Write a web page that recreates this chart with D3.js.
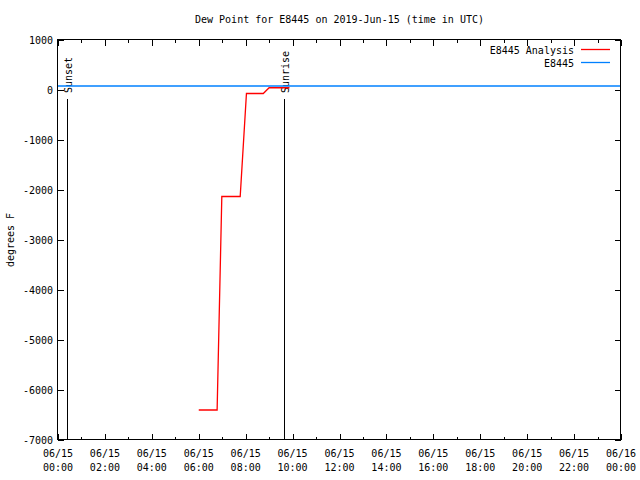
<!DOCTYPE html>
<html>
<head>
<meta charset="utf-8">
<script src="https://cdn.jsdelivr.net/npm/d3@7"></script>
<style>
  body { margin: 0; background: #fff; }
  svg text { font-family: "DejaVu Sans Mono", monospace; font-size: 10px; fill: #000; }
</style>
</head>
<body>
<div id="chart"></div>
<script>
// chart data, times in UTC on 2019-06-15
const analysisTimes = ['06:00', '06:47', '06:59', '07:46', '08:02', '08:45', '09:00', '09:52'];
const analysisValues = [-6400, -6400, -2130, -2130, -70, -70, 45, 45];
const observedTimes = ['00:00', '24:00'];
const observedValues = [80, 80];
const sunEvents = [{ label: 'Sunset', time: '00:22' }, { label: 'Sunrise', time: '09:39' }];
const yTicks = [1000, 0, -1000, -2000, -3000, -4000, -5000, -6000, -7000];
const xTickHours = [0, 2, 4, 6, 8, 10, 12, 14, 16, 18, 20, 22, 24];

const width = 640, height = 480;
const margin = { top: 40, right: 19, bottom: 40, left: 58 };

const parseTime = t => {
  const [h, m] = t.split(':').map(Number);
  return new Date(Date.UTC(2019, 5, 15, h, m));
};
const dayStart = parseTime('00:00');
const dayEnd = parseTime('24:00');

const svg = d3.select('#chart').append('svg')
  .attr('width', width)
  .attr('height', height);

const x = d3.scaleUtc()
  .domain([dayStart, dayEnd])
  .range([margin.left, width - margin.right]);

const y = d3.scaleLinear()
  .domain([-7000, 1000])
  .range([height - margin.bottom, margin.top]);

const crisp = v => Math.round(v) + 0.5;

// ticks (inward, on all four sides)
const hourTicks = d3.utcHour.range(dayStart, d3.utcHour.offset(dayEnd, 1));
const ticks = svg.append('g').attr('stroke', '#000').attr('stroke-width', 1);
hourTicks.forEach((d, i) => {
  const len = i % 2 === 0 ? 6 : 3;
  const px = crisp(x(d));
  ticks.append('line').attr('x1', px).attr('x2', px)
    .attr('y1', y(-7000)).attr('y2', y(-7000) - len);
  ticks.append('line').attr('x1', px).attr('x2', px)
    .attr('y1', y(1000)).attr('y2', y(1000) + len);
});
yTicks.forEach(v => {
  const py = crisp(y(v));
  ticks.append('line').attr('x1', x(dayStart)).attr('x2', x(dayStart) + 6)
    .attr('y1', py).attr('y2', py);
  ticks.append('line').attr('x1', x(dayEnd)).attr('x2', x(dayEnd) - 6)
    .attr('y1', py).attr('y2', py);
});

// tick labels
svg.append('g').selectAll('text')
  .data(yTicks)
  .join('text')
  .attr('x', x(dayStart) - 5)
  .attr('y', d => y(d) + 4)
  .attr('text-anchor', 'end')
  .text(d => d);

const fmtDate = d3.utcFormat('%m/%d');
const fmtTime = d3.utcFormat('%H:%M');
const xLabels = svg.append('g').selectAll('text')
  .data(xTickHours.map(h => d3.utcHour.offset(dayStart, h)))
  .join('text')
  .attr('text-anchor', 'middle')
  .attr('x', d => x(d));
xLabels.append('tspan').attr('x', d => x(d)).attr('y', 457).text(d => fmtDate(d));
xLabels.append('tspan').attr('x', d => x(d)).attr('y', 471).text(d => fmtTime(d));

// sunset / sunrise markers
sunEvents.forEach(ev => {
  const px = crisp(x(parseTime(ev.time)));
  svg.append('line')
    .attr('x1', px).attr('x2', px)
    .attr('y1', 99).attr('y2', y(-7000))
    .attr('stroke', '#000');
  svg.append('text')
    .attr('transform', `translate(${px + 4},${93}) rotate(-90)`)
    .attr('text-anchor', 'start')
    .text(ev.label);
});

const line = d3.line()
  .x(d => x(d.time))
  .y(d => y(d.value));

const analysis = analysisTimes.map((t, i) => ({ time: parseTime(t), value: analysisValues[i] }));
const observed = observedTimes.map((t, i) => ({ time: parseTime(t), value: observedValues[i] }));

svg.append('path')
  .datum(analysis)
  .attr('fill', 'none')
  .attr('stroke', '#ff0000')
  .attr('stroke-width', 1.3)
  .attr('d', line);

svg.append('path')
  .datum(observed)
  .attr('fill', 'none')
  .attr('stroke', '#0080ff')
  .attr('stroke-width', 1.3)
  .attr('d', line);

// border
svg.append('rect')
  .attr('x', crisp(x(dayStart)) - 1)
  .attr('y', crisp(y(1000)) - 1)
  .attr('width', Math.round(x(dayEnd) - x(dayStart)))
  .attr('height', Math.round(y(-7000) - y(1000)))
  .attr('fill', 'none')
  .attr('stroke', '#000');

// legend
const legend = [
  { label: 'E8445 Analysis', color: '#ff0000' },
  { label: 'E8445', color: '#0080ff' }
];
legend.forEach((item, i) => {
  const ly = 49.5 + i * 13;
  svg.append('text')
    .attr('x', 574)
    .attr('y', ly + 4)
    .attr('text-anchor', 'end')
    .text(item.label);
  svg.append('line')
    .attr('x1', 581).attr('x2', 610)
    .attr('y1', ly).attr('y2', ly)
    .attr('stroke', item.color)
    .attr('stroke-width', 1.3);
});

// title and axis label
svg.append('text')
  .attr('x', (x(dayStart) + x(dayEnd)) / 2)
  .attr('y', 23)
  .attr('text-anchor', 'middle')
  .text('Dew Point for E8445 on 2019-Jun-15 (time in UTC)');

svg.append('text')
  .attr('transform', `translate(14,${(y(1000) + y(-7000)) / 2}) rotate(-90)`)
  .attr('text-anchor', 'middle')
  .text('degrees F');
</script>
</body>
</html>
